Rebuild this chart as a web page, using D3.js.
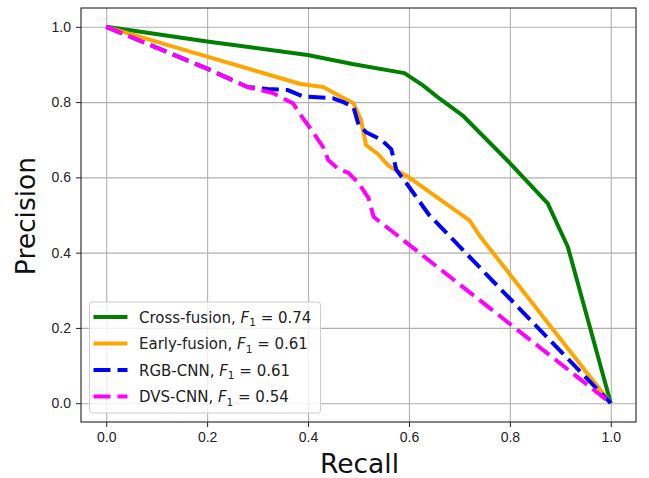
<!DOCTYPE html>
<html>
<head>
<meta charset="utf-8">
<script src="https://cdn.jsdelivr.net/npm/d3@7"></script>
<style>
  body { margin: 0; background: #fff; }
  svg { font-family: "DejaVu Sans", sans-serif; }
  .grid line { stroke: #b0b0b0; stroke-width: 1.1; }
  .tick text { fill: #222; font-size: 14px; }
</style>
</head>
<body>
<div id="chart"></div>
<script>
// --- data ---
const crossRecall    = [0, 0.2, 0.399, 0.488, 0.591, 0.627, 0.661, 0.706, 0.800, 0.875, 0.915, 1.0];
const crossPrecision = [1, 0.961, 0.925, 0.901, 0.877, 0.845, 0.809, 0.765, 0.638, 0.531, 0.415, 0.0];

const earlyRecall    = [0, 0.2, 0.385, 0.43, 0.46, 0.49, 0.505, 0.515, 0.54, 0.56, 0.60, 0.72, 0.74, 1.0];
const earlyPrecision = [1, 0.921, 0.848, 0.840, 0.818, 0.797, 0.752, 0.686, 0.660, 0.630, 0.600, 0.486, 0.445, 0.0];

const rgbRecall    = [0, 0.2, 0.28, 0.32, 0.36, 0.39, 0.45, 0.47, 0.49, 0.50, 0.515, 0.545, 0.565, 0.575, 0.60, 0.64, 1.0];
const rgbPrecision = [1, 0.889, 0.840, 0.835, 0.832, 0.815, 0.810, 0.800, 0.787, 0.740, 0.720, 0.700, 0.675, 0.620, 0.575, 0.500, 0.0];

const dvsRecall    = [0, 0.2, 0.28, 0.33, 0.37, 0.39, 0.41, 0.43, 0.44, 0.46, 0.48, 0.50, 0.52, 0.53, 1.0];
const dvsPrecision = [1, 0.889, 0.840, 0.824, 0.797, 0.757, 0.720, 0.680, 0.646, 0.622, 0.612, 0.585, 0.545, 0.495, 0.0];

const seriesNames = ['Cross-fusion', 'Early-fusion', 'RGB-CNN', 'DVS-CNN'];
const f1Scores = ['0.74', '0.61', '0.61', '0.54'];
const tickValues = [0, 0.2, 0.4, 0.6, 0.8, 1.0];

// --- layout ---
const width = 649;
const height = 478;
const margin = { top: 8, right: 13, bottom: 56, left: 81 };

const series = [
  { x: crossRecall, y: crossPrecision, color: 'green', dash: null },
  { x: earlyRecall, y: earlyPrecision, color: 'orange', dash: null },
  { x: rgbRecall, y: rgbPrecision, color: 'blue', dash: '17,7' },
  { x: dvsRecall, y: dvsPrecision, color: 'magenta', dash: '17,7' }
];

const svg = d3.create('svg')
    .attr('width', width)
    .attr('height', height);

const x = d3.scaleLinear().domain([-0.05, 1.05]).range([margin.left, width - margin.right]);
const y = d3.scaleLinear().domain([-0.05, 1.05]).range([height - margin.bottom, margin.top]);

// grid
svg.append('g')
    .attr('class', 'grid')
    .attr('transform', `translate(0,${height - margin.bottom})`)
    .call(d3.axisBottom(x).tickValues(tickValues).tickSize(-(height - margin.top - margin.bottom)).tickFormat(''))
    .call(g => g.select('.domain').remove());

svg.append('g')
    .attr('class', 'grid')
    .attr('transform', `translate(${margin.left},0)`)
    .call(d3.axisLeft(y).tickValues(tickValues).tickSize(-(width - margin.left - margin.right)).tickFormat(''))
    .call(g => g.select('.domain').remove());

// curves
const line = d3.line()
    .x(d => x(d[0]))
    .y(d => y(d[1]));

series.forEach(s => {
  svg.append('path')
      .datum(s.x.map((v, i) => [v, s.y[i]]))
      .attr('fill', 'none')
      .attr('stroke', s.color)
      .attr('stroke-width', 4)
      .attr('stroke-linejoin', 'round')
      .attr('stroke-dasharray', s.dash)
      .attr('d', line);
});

// axes
const xAxis = svg.append('g')
    .attr('transform', `translate(0,${height - margin.bottom})`)
    .call(d3.axisBottom(x).tickValues(tickValues).tickFormat(d3.format('.1f')).tickSizeOuter(0).tickSize(5).tickPadding(5));

const yAxis = svg.append('g')
    .attr('transform', `translate(${margin.left},0)`)
    .call(d3.axisLeft(y).tickValues(tickValues).tickFormat(d3.format('.1f')).tickSizeOuter(0).tickSize(5).tickPadding(5));

[xAxis, yAxis].forEach(a => {
  a.select('.domain').remove();
  a.selectAll('.tick line').attr('stroke', '#222').attr('stroke-width', 1);
});

// frame
svg.append('rect')
    .attr('x', margin.left)
    .attr('y', margin.top)
    .attr('width', width - margin.left - margin.right)
    .attr('height', height - margin.top - margin.bottom)
    .attr('fill', 'none')
    .attr('stroke', '#222')
    .attr('stroke-width', 1.1);

// axis labels
svg.append('text')
    .attr('x', (margin.left + width - margin.right) / 2 + 1)
    .attr('y', 473)
    .attr('text-anchor', 'middle')
    .attr('font-size', 26.5)
    .attr('fill', '#111')
    .text('Recall');

svg.append('text')
    .attr('transform', `translate(35,216) rotate(-90)`)
    .attr('text-anchor', 'middle')
    .attr('font-size', 26.5)
    .attr('fill', '#111')
    .text('Precision');

// legend
const legend = svg.append('g');
legend.append('rect')
    .attr('x', 89.5)
    .attr('y', 302)
    .attr('width', 231)
    .attr('height', 111)
    .attr('rx', 3)
    .attr('fill', 'white')
    .attr('fill-opacity', 0.8)
    .attr('stroke', '#cccccc')
    .attr('stroke-width', 1);

series.forEach((s, i) => {
  const cy = 317 + i * 26.5;
  legend.append('line')
      .attr('x1', 93.5)
      .attr('x2', 127.5)
      .attr('y1', cy)
      .attr('y2', cy)
      .attr('stroke', s.color)
      .attr('stroke-width', 4)
      .attr('stroke-dasharray', s.dash);

  const t = legend.append('text')
      .attr('x', 139)
      .attr('y', cy + 5.5)
      .attr('font-size', 15)
      .attr('fill', '#222');
  t.append('tspan').text(seriesNames[i] + ', ');
  t.append('tspan').attr('font-style', 'italic').text('F');
  t.append('tspan').attr('font-size', 10.5).attr('dy', 3.5).text('1');
  t.append('tspan').attr('dy', -3.5).text(' = ' + f1Scores[i]);
});

document.querySelector('#chart').append(svg.node());
</script>
</body>
</html>
